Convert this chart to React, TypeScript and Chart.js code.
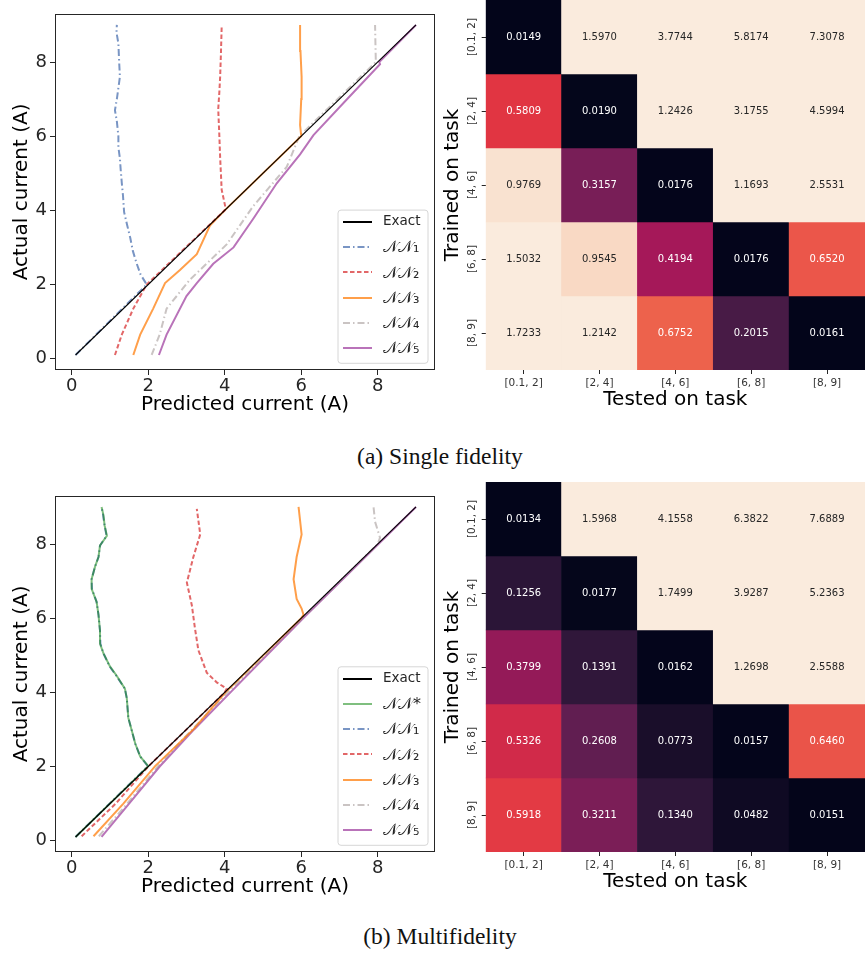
import React, { useEffect, useRef } from "react";
import { Chart, registerables } from "chart.js";
Chart.register(...registerables);

// ---------------- Data: line charts (x = predicted, y = actual) ----------------
const exactActual = [0.1, 9];
const exactPred = [0.1, 9];

// (a) single fidelity
const sfNN1Actual = [0.1, 2.0, 2.27, 2.56, 2.9, 3.26, 3.6, 3.95, 4.4, 4.73, 5.1, 5.4, 5.7, 6.0, 6.4, 6.7, 7.0, 7.3, 7.6, 8.0, 8.5, 8.8, 9.0];
const sfNN1Pred = [0.1, 1.96, 1.8, 1.7, 1.6, 1.53, 1.45, 1.37, 1.34, 1.31, 1.28, 1.26, 1.22, 1.22, 1.18, 1.13, 1.18, 1.22, 1.26, 1.24, 1.22, 1.17, 1.18];
const sfNN2Actual = [0.1, 0.65, 1.35, 2.0, 4.0, 4.12, 4.56, 5.0, 5.43, 6.0, 6.73, 7.2, 7.6, 8.2, 8.94];
const sfNN2Pred = [1.13, 1.31, 1.61, 1.96, 4.0, 4.01, 3.92, 3.9, 3.88, 3.86, 3.83, 3.86, 3.88, 3.9, 3.92];
const sfNN3Actual = [0.1, 0.65, 1.35, 2.04, 2.39, 2.82, 3.6, 4.0, 6.0, 6.3, 7.0, 7.6, 8.3, 9.0];
const sfNN3Pred = [1.61, 1.79, 2.13, 2.44, 2.83, 3.27, 3.62, 4.0, 6.0, 5.97, 6.0, 6.01, 5.98, 5.97];
const sfNN4Actual = [0.1, 0.65, 1.35, 2.13, 3.08, 4.12, 5.17, 6.0, 8.0, 8.5, 9.0];
const sfNN4Pred = [2.09, 2.3, 2.48, 3.09, 4.05, 4.75, 5.62, 5.95, 7.95, 7.94, 7.93];
const sfNN5Actual = [0.1, 0.65, 1.69, 2.04, 2.56, 3.0, 3.78, 4.73, 5.51, 6.03, 6.99, 7.94, 8.0, 9.0];
const sfNN5Pred = [2.28, 2.48, 3.0, 3.27, 3.7, 4.23, 4.75, 5.36, 5.97, 6.32, 7.19, 8.06, 8.04, 9.0];

// (b) multifidelity
const mfNNStarActual = [0.1, 2.01, 2.27, 2.62, 2.97, 3.31, 3.84, 4.1, 4.44, 4.7, 5.05, 5.31, 5.66, 6.09, 6.44, 6.79, 7.05, 7.39, 7.65, 7.96, 8.22, 8.5, 8.78, 9.0];
const mfNNStarPred = [0.1, 2.0, 1.79, 1.66, 1.57, 1.48, 1.44, 1.39, 1.18, 1.0, 0.83, 0.74, 0.74, 0.7, 0.65, 0.52, 0.52, 0.61, 0.7, 0.74, 0.92, 0.86, 0.83, 0.78];
const mfNN1Actual = [0.1, 2.01, 2.27, 2.62, 2.97, 3.31, 3.84, 4.1, 4.44, 4.7, 5.05, 5.31, 5.66, 6.09, 6.44, 6.79, 7.05, 7.39, 7.65, 7.96, 8.22, 8.5, 8.78, 9.0];
const mfNN1Pred = [0.1, 1.99, 1.79, 1.66, 1.57, 1.48, 1.44, 1.39, 1.17, 0.99, 0.83, 0.75, 0.74, 0.7, 0.65, 0.53, 0.52, 0.61, 0.7, 0.74, 0.91, 0.86, 0.82, 0.78];
const mfNN2Actual = [0.12, 1.0, 2.0, 4.0, 4.1, 4.27, 4.53, 5.14, 5.74, 6.35, 6.96, 7.65, 8.26, 8.95];
const mfNN2Pred = [0.26, 1.15, 2.0, 4.0, 4.05, 3.79, 3.53, 3.31, 3.22, 3.14, 3.01, 3.18, 3.36, 3.27];
const mfNN3Actual = [0.12, 1.0, 2.01, 3.0, 4.0, 6.0, 6.09, 6.26, 6.52, 7.05, 7.65, 8.26, 9.0];
const mfNN3Pred = [0.57, 1.35, 2.18, 3.18, 4.02, 6.0, 6.06, 6.01, 5.88, 5.8, 5.88, 6.01, 5.93];
const mfNN4Actual = [0.12, 1.0, 2.0, 3.0, 4.0, 6.0, 8.0, 8.17, 8.6, 9.0];
const mfNN4Pred = [0.71, 1.45, 2.25, 3.15, 4.08, 6.03, 8.0, 8.06, 7.93, 7.89];
const mfNN5Actual = [0.1, 1.0, 2.0, 3.0, 4.0, 6.0, 8.0, 9.0];
const mfNN5Pred = [0.78, 1.5, 2.3, 3.2, 4.15, 6.05, 8.02, 9.0];

const axisTicks = [0, 2, 4, 6, 8];

// ---------------- Data: heatmaps ----------------
const taskLabels = ["[0.1, 2]", "[2, 4]", "[4, 6]", "[6, 8]", "[8, 9]"];
const sfTrained01to2 = [0.0149, 1.597, 3.7744, 5.8174, 7.3078];
const sfTrained2to4 = [0.5809, 0.019, 1.2426, 3.1755, 4.5994];
const sfTrained4to6 = [0.9769, 0.3157, 0.0176, 1.1693, 2.5531];
const sfTrained6to8 = [1.5032, 0.9545, 0.4194, 0.0176, 0.652];
const sfTrained8to9 = [1.7233, 1.2142, 0.6752, 0.2015, 0.0161];
const mfTrained01to2 = [0.0134, 1.5968, 4.1558, 6.3822, 7.6889];
const mfTrained2to4 = [0.1256, 0.0177, 1.7499, 3.9287, 5.2363];
const mfTrained4to6 = [0.3799, 0.1391, 0.0162, 1.2698, 2.5588];
const mfTrained6to8 = [0.5326, 0.2608, 0.0773, 0.0157, 0.646];
const mfTrained8to9 = [0.5918, 0.3211, 0.134, 0.0482, 0.0151];

const FONT = "'DejaVu Sans', sans-serif";

// ---------------- colour helpers ----------------
const rocketStops: [number, string][] = [
  [0, "#03051A"], [0.143, "#35193E"], [0.286, "#701F57"], [0.429, "#AD1759"],
  [0.571, "#E13342"], [0.714, "#F37651"], [0.857, "#F6B48F"], [1, "#FAEBDD"],
];
function hexRgb(h: string) {
  return [parseInt(h.slice(1, 3), 16), parseInt(h.slice(3, 5), 16), parseInt(h.slice(5, 7), 16)];
}
function rocket(t: number): number[] {
  t = Math.max(0, Math.min(1, t));
  for (let i = 1; i < rocketStops.length; i++) {
    const [p1, c1] = rocketStops[i];
    const [p0, c0] = rocketStops[i - 1];
    if (t <= p1) {
      const f = (t - p0) / (p1 - p0);
      const a = hexRgb(c0), b = hexRgb(c1);
      return a.map((v, k) => Math.round(v + (b[k] - v) * f));
    }
  }
  return hexRgb("#FAEBDD");
}
function luminance(rgb: number[]) {
  const l = rgb.map((v) => {
    const c = v / 255;
    return c <= 0.03928 ? c / 12.92 : Math.pow((c + 0.055) / 1.055, 2.4);
  });
  return 0.2126 * l[0] + 0.7152 * l[1] + 0.0722 * l[2];
}

// ---------------- plugins ----------------
const framePlugin = {
  id: "frame",
  afterDraw(chart: any) {
    const { ctx, chartArea: a } = chart;
    ctx.save();
    ctx.strokeStyle = "#262626";
    ctx.lineWidth = 1;
    ctx.strokeRect(Math.round(a.left) + 0.5, Math.round(a.top) + 0.5, Math.round(a.right - a.left) - 1, Math.round(a.bottom - a.top) - 1);
    ctx.restore();
  },
};

const boxLegendPlugin = {
  id: "boxLegend",
  afterDraw(chart: any, _args: any, opts: any) {
    const { ctx, chartArea: a } = chart;
    const ds = chart.data.datasets;
    const n = ds.length;
    const w = opts.width;
    const h = opts.padTop + opts.rowH * (n - 1) + opts.padBottom;
    const x0 = a.right - opts.right - w;
    const y0 = a.bottom - opts.bottom - h;
    ctx.save();
    ctx.beginPath();
    const r = 3;
    ctx.moveTo(x0 + r, y0);
    ctx.arcTo(x0 + w, y0, x0 + w, y0 + h, r);
    ctx.arcTo(x0 + w, y0 + h, x0, y0 + h, r);
    ctx.arcTo(x0, y0 + h, x0, y0, r);
    ctx.arcTo(x0, y0, x0 + w, y0, r);
    ctx.closePath();
    ctx.fillStyle = "rgba(255,255,255,0.85)";
    ctx.fill();
    ctx.strokeStyle = "#D6D6D6";
    ctx.lineWidth = 1;
    ctx.stroke();
    ds.forEach((d: any, i: number) => {
      const y = y0 + opts.padTop + i * opts.rowH;
      ctx.beginPath();
      ctx.setLineDash(d.borderDash || []);
      ctx.strokeStyle = d.borderColor;
      ctx.lineWidth = 2;
      ctx.moveTo(x0 + 5, Math.round(y));
      ctx.lineTo(x0 + 34, Math.round(y));
      ctx.stroke();
      ctx.setLineDash([]);
      ctx.fillStyle = "#262626";
      const isMath = d.label !== "Exact";
      ctx.font = isMath ? `16px ${FONT}` : `13.5px ${FONT}`;
      ctx.textBaseline = "middle";
      ctx.textAlign = "left";
      ctx.fillText(d.label, x0 + 45, y + (isMath ? 1 : 0));
    });
    ctx.restore();
  },
};

const cellTextPlugin = {
  id: "cellText",
  afterDatasetsDraw(chart: any) {
    const { ctx } = chart;
    ctx.save();
    ctx.font = `10px ${FONT}`;
    ctx.textAlign = "center";
    ctx.textBaseline = "middle";
    chart.data.datasets.forEach((d: any, i: number) => {
      const meta = chart.getDatasetMeta(i);
      meta.data.forEach((el: any, j: number) => {
        const v = d.cellValues[j];
        const rgb = d.cellRgb[j];
        ctx.fillStyle = luminance(rgb) < 0.408 ? "#FFFFFF" : "#262626";
        ctx.fillText(v.toFixed(4), el.x, (el.y + el.base) / 2);
      });
    });
    ctx.restore();
  },
};

// ---------------- components ----------------
type Series = { label: string; actual: number[]; pred: number[]; color: string; dash: number[]; width: number };

function LineChart({ series, top, legendBottom }: { series: Series[]; top: number; legendBottom: number }) {
  const ref = useRef<HTMLCanvasElement>(null);
  useEffect(() => {
    const chart = new Chart(ref.current as HTMLCanvasElement, {
      type: "scatter",
      data: {
        datasets: series.map((s) => ({
          label: s.label,
          data: s.actual.map((a, i) => ({ x: s.pred[i], y: a })),
          showLine: true,
          borderColor: s.color,
          backgroundColor: s.color,
          borderDash: s.dash,
          borderWidth: s.width,
          pointRadius: 0,
          pointHoverRadius: 0,
          tension: 0,
          fill: false,
        })),
      },
      options: {
        animation: false,
        responsive: false,
        maintainAspectRatio: false,
        layout: { padding: { top: 1, right: 5, left: 6, bottom: 0 } },
        plugins: {
          legend: { display: false },
          tooltip: { enabled: false },
          boxLegend: { width: 90, right: 7, bottom: legendBottom, padTop: 11.7, rowH: 25.3, padBottom: 15 },
        } as any,
        scales: {
          x: {
            type: "linear",
            min: -0.437,
            max: 9.497,
            afterBuildTicks: (s: any) => { s.ticks = axisTicks.map((v) => ({ value: v })); },
            afterFit: (s: any) => { s.height = 50; },
            grid: { display: true, drawOnChartArea: false, drawTicks: true, tickLength: 5, tickColor: "#262626" },
            border: { display: false },
            ticks: { font: { family: FONT, size: 18 }, color: "#262626", padding: 1, maxRotation: 0 },
            title: { display: true, text: "Predicted current (A)", font: { family: FONT, size: 20 }, color: "#000", padding: { top: 0, bottom: 3 } },
          },
          y: {
            type: "linear",
            min: -0.305,
            max: 9.3,
            afterBuildTicks: (s: any) => { s.ticks = axisTicks.map((v) => ({ value: v })); },
            afterFit: (s: any) => { s.width = 49; },
            grid: { display: true, drawOnChartArea: false, drawTicks: true, tickLength: 5, tickColor: "#262626" },
            border: { display: false },
            ticks: { font: { family: FONT, size: 18 }, color: "#262626", padding: 3 },
            title: { display: true, text: "Actual current (A)", font: { family: FONT, size: 20 }, color: "#000", padding: { top: 4, bottom: 0 } },
          },
        },
      },
      plugins: [framePlugin, boxLegendPlugin],
    });
    return () => chart.destroy();
  }, []);
  return <canvas ref={ref} width={440} height={420} style={{ position: "absolute", left: 0, top, width: 440, height: 420 }} />;
}

function Heatmap({ rows, top }: { rows: number[][]; top: number }) {
  const ref = useRef<HTMLCanvasElement>(null);
  useEffect(() => {
    const all = rows.flat();
    const vmin = Math.min(...all);
    const vmax = 1.0;
    const chart = new Chart(ref.current as HTMLCanvasElement, {
      type: "bar",
      data: {
        labels: taskLabels,
        datasets: rows.map((row, r) => {
          const rgb = row.map((v) => rocket((v - vmin) / (vmax - vmin)));
          return {
            label: taskLabels[r],
            data: row.map(() => [r, r + 1]),
            backgroundColor: rgb.map((c) => `rgb(${c[0]},${c[1]},${c[2]})`),
            borderWidth: 0,
            grouped: false,
            barPercentage: 1,
            categoryPercentage: 1,
            cellValues: row,
            cellRgb: rgb,
          } as any;
        }),
      },
      options: {
        animation: false,
        responsive: false,
        maintainAspectRatio: false,
        layout: { padding: 0 },
        plugins: { legend: { display: false }, tooltip: { enabled: false } },
        scales: {
          x: {
            type: "category",
            offset: true,
            afterFit: (s: any) => { s.height = 50; },
            grid: { display: true, drawOnChartArea: false, drawTicks: true, tickLength: 4, tickColor: "#262626", offset: false },
            border: { display: false },
            ticks: { font: { family: FONT, size: 10.5 }, color: "#333333", padding: 3, maxRotation: 0 },
            title: { display: true, text: "Tested on task", font: { family: FONT, size: 20 }, color: "#000", padding: { top: 0, bottom: 8 } },
          },
          y: {
            type: "linear",
            min: 0,
            max: 5,
            reverse: true,
            afterBuildTicks: (s: any) => { s.ticks = taskLabels.map((_, i) => ({ value: i + 0.5 })); },
            afterFit: (s: any) => { s.width = 45.7; },
            grid: { display: true, drawOnChartArea: false, drawTicks: true, tickLength: 4, tickColor: "#262626" },
            border: { display: false },
            ticks: {
              font: { family: FONT, size: 10.5 },
              color: "#333333",
              minRotation: 90,
              maxRotation: 90,
              crossAlign: "center",
              padding: -9.5,
              callback: (v: any) => taskLabels[Math.floor(Number(v))],
            },
            title: { display: true, text: "Trained on task", font: { family: FONT, size: 20 }, color: "#000", padding: { top: 1, bottom: 0 } },
          },
        },
      },
      plugins: [cellTextPlugin],
    });
    return () => chart.destroy();
  }, []);
  return <canvas ref={ref} width={425} height={420} style={{ position: "absolute", left: 440, top, width: 425, height: 420 }} />;
}

const C_BLUE = "rgba(76,114,176,0.75)";
const C_RED = "rgba(214,39,40,0.7)";
const C_ORANGE = "rgba(255,127,14,0.75)";
const C_GRAY = "rgba(150,138,136,0.5)";
const C_PURPLE = "rgba(128,0,128,0.55)";
const C_GREEN = "rgba(0,128,0,0.5)";
const DASHDOT = [7, 3, 1.5, 3];
const DASHED = [4.5, 2.5];

const sfSeries: Series[] = [
  { label: "Exact", actual: exactActual, pred: exactPred, color: "#000000", dash: [], width: 1.1 },
  { label: "𝒩𝒩₁", actual: sfNN1Actual, pred: sfNN1Pred, color: C_BLUE, dash: DASHDOT, width: 2 },
  { label: "𝒩𝒩₂", actual: sfNN2Actual, pred: sfNN2Pred, color: C_RED, dash: DASHED, width: 2 },
  { label: "𝒩𝒩₃", actual: sfNN3Actual, pred: sfNN3Pred, color: C_ORANGE, dash: [], width: 2 },
  { label: "𝒩𝒩₄", actual: sfNN4Actual, pred: sfNN4Pred, color: C_GRAY, dash: DASHDOT, width: 2 },
  { label: "𝒩𝒩₅", actual: sfNN5Actual, pred: sfNN5Pred, color: C_PURPLE, dash: [], width: 2 },
];
const mfSeries: Series[] = [
  { label: "Exact", actual: exactActual, pred: exactPred, color: "#000000", dash: [], width: 1.1 },
  { label: "𝒩𝒩*", actual: mfNNStarActual, pred: mfNNStarPred, color: C_GREEN, dash: [], width: 2 },
  { label: "𝒩𝒩₁", actual: mfNN1Actual, pred: mfNN1Pred, color: C_BLUE, dash: DASHDOT, width: 2 },
  { label: "𝒩𝒩₂", actual: mfNN2Actual, pred: mfNN2Pred, color: C_RED, dash: DASHED, width: 2 },
  { label: "𝒩𝒩₃", actual: mfNN3Actual, pred: mfNN3Pred, color: C_ORANGE, dash: [], width: 2 },
  { label: "𝒩𝒩₄", actual: mfNN4Actual, pred: mfNN4Pred, color: C_GRAY, dash: DASHDOT, width: 2 },
  { label: "𝒩𝒩₅", actual: mfNN5Actual, pred: mfNN5Pred, color: C_PURPLE, dash: [], width: 2 },
];

const captionStyle: React.CSSProperties = {
  position: "absolute",
  left: 0,
  width: 880,
  textAlign: "center",
  fontFamily: "'Liberation Serif', 'Times New Roman', serif",
  fontSize: 23.5,
  lineHeight: "26px",
  color: "#111",
};

export default function App() {
  return (
    <div style={{ position: "absolute", left: 0, top: 0, width: 865, height: 953, background: "#fff", overflow: "hidden" }}>
      <LineChart series={sfSeries} top={0} legendBottom={6.7} />
      <Heatmap rows={[sfTrained01to2, sfTrained2to4, sfTrained4to6, sfTrained6to8, sfTrained8to9]} top={0} />
      <div style={{ ...captionStyle, top: 443 }}>(a) Single fidelity</div>
      <LineChart series={mfSeries} top={481.7} legendBottom={6.7} />
      <Heatmap rows={[mfTrained01to2, mfTrained2to4, mfTrained4to6, mfTrained6to8, mfTrained8to9]} top={481.7} />
      <div style={{ ...captionStyle, top: 923 }}>(b) Multifidelity</div>
    </div>
  );
}
